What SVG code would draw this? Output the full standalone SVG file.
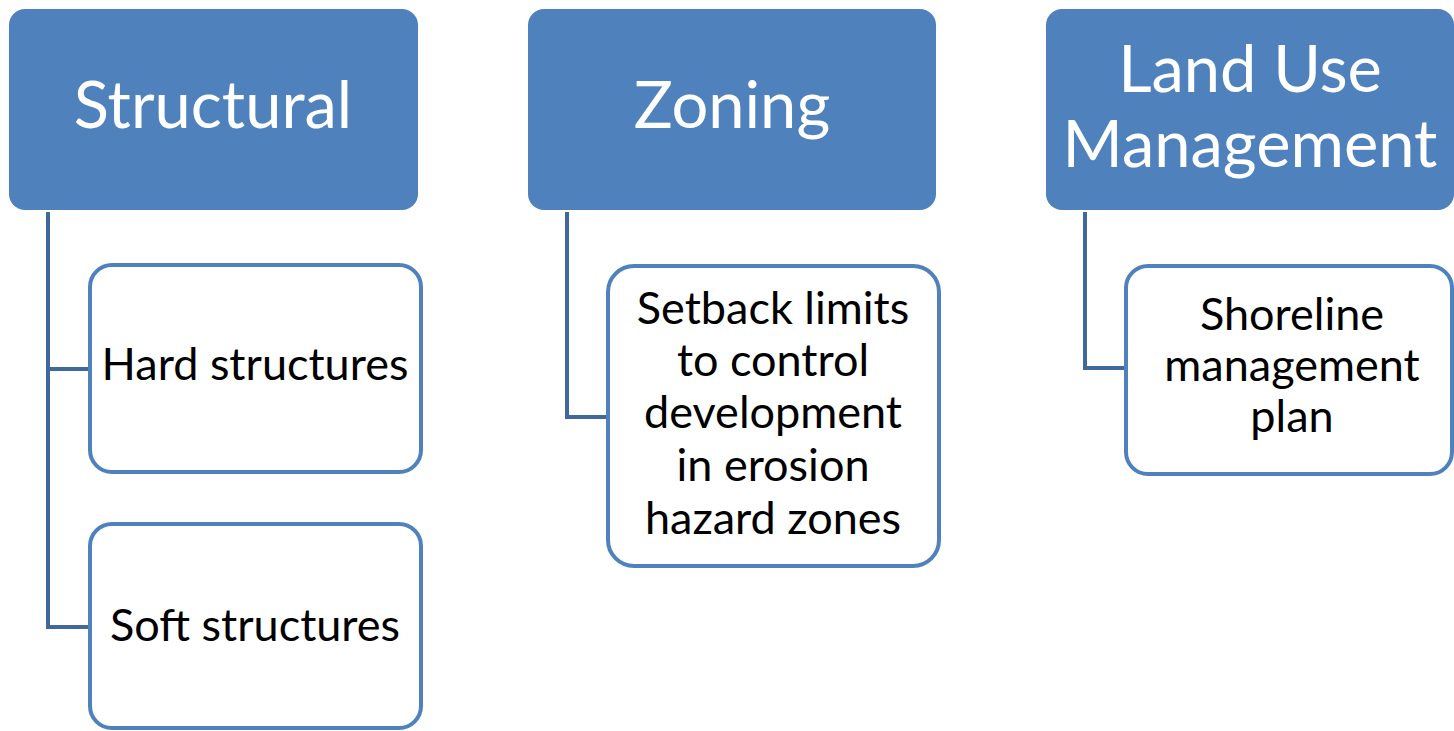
<svg xmlns="http://www.w3.org/2000/svg" width="1454" height="731" viewBox="0 0 1454 731">
<style>
.head{fill:#4F81BD;}
.child{fill:#FFFFFF;stroke:#4F81BD;stroke-width:4;}
.conn{fill:none;stroke:#41689C;stroke-width:4;}
.ht{font-family:Lato,"Liberation Sans",sans-serif;font-size:65px;fill:#FFFFFF;text-anchor:middle;}
.ct{font-family:Lato,"Liberation Sans",sans-serif;font-size:45px;fill:#000000;text-anchor:middle;}
</style>
<rect width="1454" height="731" fill="#FFFFFF"/>
<g id="connectors">
<path class="conn" d="M48 212 V627 H90"/>
<path class="conn" d="M48 369 H90"/>
<path class="conn" d="M567 212 V417 H608"/>
<path class="conn" d="M1085 212 V368 H1126"/>
</g>
<g id="structural">
<rect class="head" x="9" y="9" width="409" height="201" rx="16"/>
<text class="ht" x="213" y="128">Structural</text>
</g>
<g id="zoning">
<rect class="head" x="528" y="9" width="408" height="201" rx="16"/>
<text class="ht" x="732" y="128">Zoning</text>
</g>
<g id="landuse">
<rect class="head" x="1046" y="9" width="408" height="201" rx="16"/>
<text class="ht" x="1250" y="92">Land Use</text>
<text class="ht" x="1250" y="167">Management</text>
</g>
<g id="hard">
<rect class="child" x="90" y="265" width="331" height="207" rx="22"/>
<text class="ct" x="255" y="380">Hard structures</text>
</g>
<g id="soft">
<rect class="child" x="90" y="524" width="331" height="204" rx="22"/>
<text class="ct" x="255" y="641">Soft structures</text>
</g>
<g id="setback">
<rect class="child" x="608" y="266" width="331" height="300" rx="26"/>
<text class="ct" x="773" y="324">Setback limits</text>
<text class="ct" x="773" y="376">to control</text>
<text class="ct" x="773" y="428">development</text>
<text class="ct" x="773" y="481">in erosion</text>
<text class="ct" x="773" y="534">hazard zones</text>
</g>
<g id="shoreline">
<rect class="child" x="1126" y="266" width="326" height="208" rx="22"/>
<text class="ct" x="1292" y="330">Shoreline</text>
<text class="ct" x="1292" y="381">management</text>
<text class="ct" x="1292" y="432">plan</text>
</g>
</svg>
